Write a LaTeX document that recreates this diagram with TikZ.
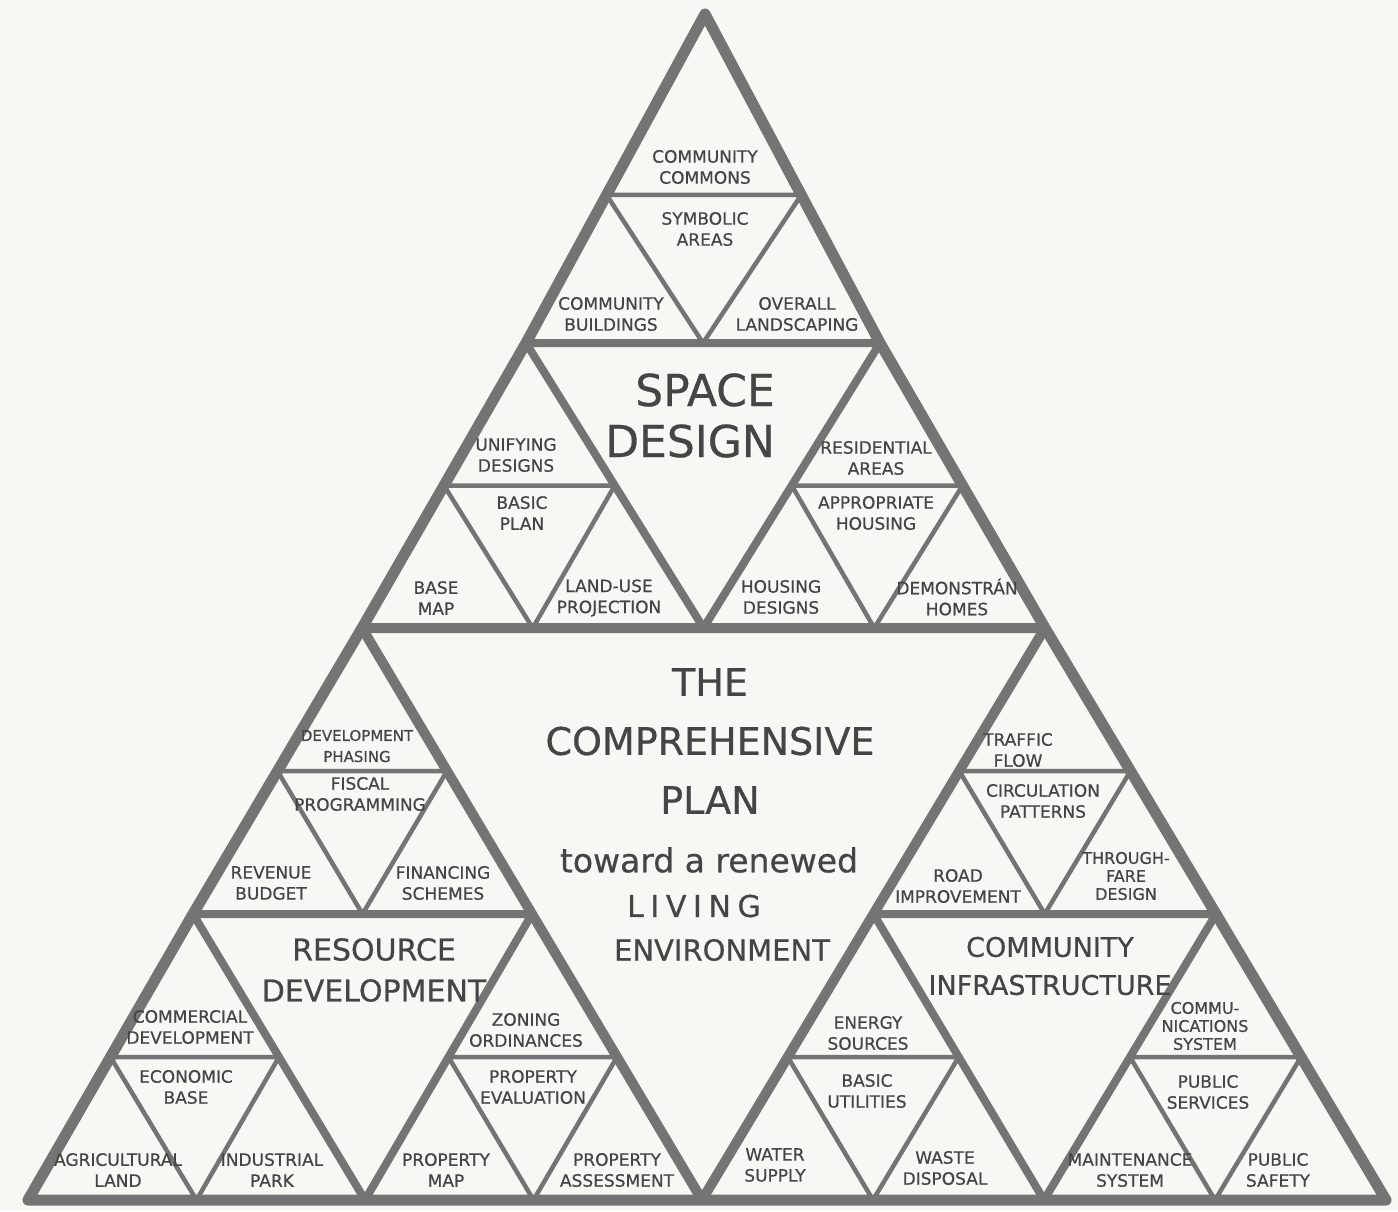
\documentclass[tikz,border=0pt]{standalone}
\usepackage{fontspec}
\setmainfont{DejaVu Sans}
\newfontfamily\hand[FakeBold=0.6]{DejaVu Sans}
\usetikzlibrary{calc}
\definecolor{paper}{HTML}{F7F7F4}
\definecolor{ink}{HTML}{454545}
\definecolor{pencil}{HTML}{747474}

\begin{document}
\begin{tikzpicture}[x=1pt,y=-1pt,
    frame/.style={draw=pencil,line width=11pt,line join=round,line cap=round},
    inner/.style={draw=pencil,line width=8pt,line join=round,line cap=round},
    fine/.style={draw=pencil,line width=4.5pt,line join=round,line cap=round},
    lbl/.style={text=ink,align=center,inner sep=0pt,font=\hand\fontsize{17}{21}\selectfont},
    head/.style={text=ink,align=center,inner sep=0pt}]
    \useasboundingbox (0,0) rectangle (1398,1211);
    \fill[paper] (0,0) rectangle (1398,1211);

    % corners and junctions of the big triangle
    \coordinate (T) at (705,14);
    \coordinate (BL) at (28,1200);
    \coordinate (BR) at (1386,1200);
    \coordinate (tA) at (526,343);
    \coordinate (tB) at (880,343);
    \coordinate (L1) at (362,628);
    \coordinate (R1) at (1045,628);
    \coordinate (bA) at (193,914);
    \coordinate (rB) at (1216,914);
    \coordinate (M1) at (702,1200);
    \coordinate (tC) at ($(L1)!.5!(R1)$);
    \coordinate (bB) at ($(L1)!.5!(M1)$);
    \coordinate (bC) at ($(BL)!.5!(M1)$);
    \coordinate (rA) at ($(R1)!.5!(M1)$);
    \coordinate (rC) at ($(M1)!.5!(BR)$);

    \draw[frame] (T) -- (tA) -- (L1) -- (bA) -- (BL) -- (M1) -- (BR)
        -- (rB) -- (R1) -- (tB) -- cycle;
    \draw[frame,line width=10pt] (L1) -- (R1) -- (M1) -- cycle;

    \draw[inner] (tA) -- (tB) -- (tC) -- cycle;
    \draw[inner] (bA) -- (bB) -- (bC) -- cycle;
    \draw[inner] (rA) -- (rB) -- (rC) -- cycle;

    % smallest triangles
    \draw[fine] ($(T)!.55!(tA)$) -- ($(T)!.55!(tB)$) -- ($(tA)!.5!(tB)$) -- cycle;
    \foreach \ta/\tb/\tc in {tA/L1/tC, tB/tC/R1, L1/bA/bB, bA/BL/bC,
                             bB/bC/M1, R1/rA/rB, rA/M1/rC, rB/rC/BR}
        \draw[fine] ($(\ta)!.5!(\tb)$) -- ($(\ta)!.5!(\tc)$) -- ($(\tb)!.5!(\tc)$) -- cycle;

    % space design
    \node[lbl] (commons) at (705,167) {COMMUNITY\\COMMONS};
    \node[lbl] (symbolic) at (705,229) {SYMBOLIC\\AREAS};
    \node[lbl] (buildings) at (611,314) {COMMUNITY\\BUILDINGS};
    \node[lbl] (landscaping) at (797,314) {OVERALL\\LANDSCAPING};
    \node[head,font=\hand\fontsize{44}{52}\selectfont] (space) at (705,390) {SPACE};
    \node[head,font=\hand\fontsize{44}{52}\selectfont] (design) at (690,441) {DESIGN};
    \node[lbl] (unifying) at (516,455) {UNIFYING\\DESIGNS};
    \node[lbl] (basicplan) at (522,513) {BASIC\\PLAN};
    \node[lbl] (basemap) at (436,598) {BASE\\MAP};
    \node[lbl] (landuse) at (609,598) {LAND-USE\\PROJECTION};
    \node[lbl] (residential) at (876,458) {RESIDENTIAL\\AREAS};
    \node[lbl] (appropriate) at (876,513) {APPROPRIATE\\HOUSING};
    \node[lbl] (housing) at (781,597) {HOUSING\\DESIGNS};
    \node[lbl] (demonstran) at (957,597) {DEMONSTRÁN\\HOMES};

    % the plan
    \node[head,font=\hand\fontsize{38}{59}\selectfont] (plan) at (710,741) {THE\\COMPREHENSIVE\\PLAN};
    \node[head,font=\hand\fontsize{33}{40}\selectfont] (toward) at (709,860) {toward a renewed};
    \node[head,font=\hand\fontsize{30}{40}\selectfont\addfontfeature{LetterSpace=22}] (living) at (694,906) {LIVING};
    \node[head,font=\hand\fontsize{29}{40}\selectfont] (environment) at (722,950) {ENVIRONMENT};

    % resource development
    \node[lbl,font=\hand\fontsize{15}{21}\selectfont] (phasing) at (357,746) {DEVELOPMENT\\PHASING};
    \node[lbl] (fiscal) at (360,794) {FISCAL\\PROGRAMMING};
    \node[lbl] (revenue) at (271,883) {REVENUE\\BUDGET};
    \node[lbl] (financing) at (443,883) {FINANCING\\SCHEMES};
    \node[head,font=\hand\fontsize{30}{41}\selectfont] (resource) at (374,970) {RESOURCE\\DEVELOPMENT};
    \node[lbl] (commercial) at (190,1027) {COMMERCIAL\\DEVELOPMENT};
    \node[lbl] (economic) at (186,1087) {ECONOMIC\\BASE};
    \node[lbl] (agricultural) at (118,1170) {AGRICULTURAL\\LAND};
    \node[lbl] (industrial) at (272,1170) {INDUSTRIAL\\PARK};
    \node[lbl] (zoning) at (526,1030) {ZONING\\ORDINANCES};
    \node[lbl] (evaluation) at (533,1087) {PROPERTY\\EVALUATION};
    \node[lbl] (propmap) at (446,1170) {PROPERTY\\MAP};
    \node[lbl] (assessment) at (617,1170) {PROPERTY\\ASSESSMENT};

    % community infrastructure
    \node[lbl] (traffic) at (1018,750) {TRAFFIC\\FLOW};
    \node[lbl] (circulation) at (1043,801) {CIRCULATION\\PATTERNS};
    \node[lbl] (road) at (958,886) {ROAD\\IMPROVEMENT};
    \node[lbl,font=\hand\fontsize{16}{18}\selectfont] (thoroughfare) at (1126,876) {THROUGH-\\FARE\\DESIGN};
    \node[head,font=\hand\fontsize{27}{38}\selectfont] (infra) at (1050,966) {COMMUNITY\\INFRASTRUCTURE};
    \node[lbl] (energy) at (868,1033) {ENERGY\\SOURCES};
    \node[lbl] (utilities) at (867,1091) {BASIC\\UTILITIES};
    \node[lbl] (water) at (775,1165) {WATER\\SUPPLY};
    \node[lbl] (waste) at (945,1168) {WASTE\\DISPOSAL};
    \node[lbl,font=\hand\fontsize{16}{18}\selectfont] (communications) at (1205,1026) {COMMU-\\NICATIONS\\SYSTEM};
    \node[lbl] (services) at (1208,1092) {PUBLIC\\SERVICES};
    \node[lbl] (maintenance) at (1130,1170) {MAINTENANCE\\SYSTEM};
    \node[lbl] (safety) at (1278,1170) {PUBLIC\\SAFETY};
\end{tikzpicture}
\end{document}
